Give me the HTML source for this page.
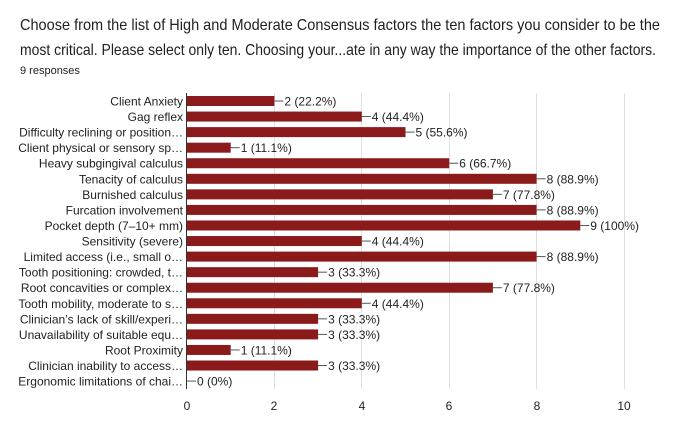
<!DOCTYPE html>
<html><head><style>
body{margin:0;background:#fff;width:678px;height:433px;overflow:hidden;font-family:"Liberation Sans",Arial,sans-serif;}
</style></head><body>
<svg width="678" height="433" xmlns="http://www.w3.org/2000/svg" font-family="Liberation Sans, Arial, sans-serif">
<text x="20" y="30" font-size="16" fill="#202124" textLength="640" lengthAdjust="spacingAndGlyphs">Choose from the list of High and Moderate Consensus factors the ten factors you consider to be the</text>
<text x="20" y="55" font-size="16" fill="#202124" textLength="636" lengthAdjust="spacingAndGlyphs">most critical. Please select only ten. Choosing your...ate in any way the importance of the other factors.</text>
<text x="20" y="74" font-size="11" fill="#202124">9 responses</text>
<g stroke="#e0e0e0" stroke-width="1">
<line x1="274.5" y1="93" x2="274.5" y2="389"/><line x1="361.5" y1="93" x2="361.5" y2="389"/>
<line x1="449.5" y1="93" x2="449.5" y2="389"/><line x1="536.5" y1="93" x2="536.5" y2="389"/>
<line x1="624.5" y1="93" x2="624.5" y2="389"/>
</g>
<g id="bars"></g>
<line x1="186.5" y1="93" x2="186.5" y2="389" stroke="#333" stroke-width="1"/>
<g font-size="12" fill="#222" text-anchor="middle">
<text x="187" y="410">0</text><text x="274" y="410">2</text><text x="362" y="410">4</text><text x="449" y="410">6</text><text x="537" y="410">8</text><text x="624" y="410">10</text>
</g>
</svg>
<script>
const d=[["Client Anxiety",2,"22.2%"],["Gag reflex",4,"44.4%"],["Difficulty reclining or position…",5,"55.6%"],["Client physical or sensory sp…",1,"11.1%"],["Heavy subgingival calculus",6,"66.7%"],["Tenacity of calculus",8,"88.9%"],["Burnished calculus",7,"77.8%"],["Furcation involvement",8,"88.9%"],["Pocket depth (7–10+ mm)",9,"100%"],["Sensitivity (severe)",4,"44.4%"],["Limited access (i.e., small o…",8,"88.9%"],["Tooth positioning: crowded, t…",3,"33.3%"],["Root concavities or complex…",7,"77.8%"],["Tooth mobility, moderate to s…",4,"44.4%"],["Clinician’s lack of skill/experi…",3,"33.3%"],["Unavailability of suitable equ…",3,"33.3%"],["Root Proximity",1,"11.1%"],["Clinician inability to access…",3,"33.3%"],["Ergonomic limitations of chai…",0,"0%"]];
const g=document.getElementById("bars");let s="";
d.forEach((r,i)=>{const y=101+i*15.56;const w=r[1]*43.7;
s+=`<text x="183" y="${y+4.5}" font-size="12" fill="#222" text-anchor="end">${r[0]}</text>`;
if(w>0)s+=`<rect x="187" y="${y-5}" width="${w}" height="10" fill="#8b1a1a"/>`;
const e=187+w;s+=`<line x1="${e}" y1="${y}" x2="${e+9}" y2="${y}" stroke="#555" stroke-width="1"/>`;
s+=`<text x="${e+10}" y="${y+4.5}" font-size="12" fill="#222">${r[1]} (${r[2]})</text>`;});
g.innerHTML=s;
</script>
</body></html>
